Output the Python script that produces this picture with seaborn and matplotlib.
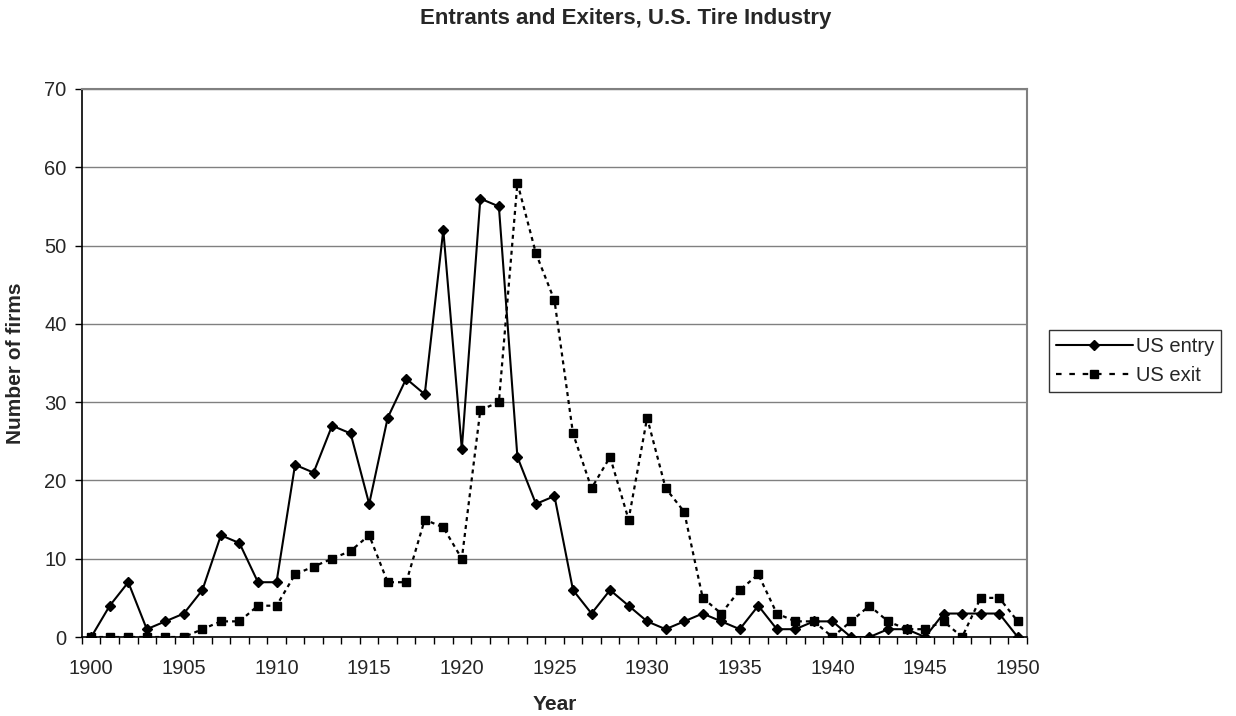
import numpy as np
import pandas as pd
import seaborn as sns
import matplotlib.pyplot as plt
from matplotlib.ticker import MultipleLocator, FixedLocator
from matplotlib.lines import Line2D

years = list(range(1900, 1951))
us_entry = [0, 4, 7, 1, 2, 3, 6, 13, 12, 7, 7, 22, 21, 27, 26, 17, 28, 33, 31, 52,
            24, 56, 55, 23, 17, 18, 6, 3, 6, 4, 2, 1, 2, 3, 2, 1, 4, 1, 1, 2,
            2, 0, 0, 1, 1, 0, 3, 3, 3, 3, 0]
us_exit = [0, 0, 0, 0, 0, 0, 1, 2, 2, 4, 4, 8, 9, 10, 11, 13, 7, 7, 15, 14,
           10, 29, 30, 58, 49, 43, 26, 19, 23, 15, 28, 19, 16, 5, 3, 6, 8, 3, 2, 2,
           0, 2, 4, 2, 1, 1, 2, 0, 5, 5, 2]

sns.set_style("white")
plt.rcParams['font.family'] = ['Liberation Sans', 'DejaVu Sans']

df = pd.DataFrame({"Year": years + years,
                   "firms": us_entry + us_exit,
                   "series": ["US entry"] * len(years) + ["US exit"] * len(years)})

fig = plt.figure(figsize=(12.36, 7.16), dpi=100)
ax = fig.add_axes([0.0663, 0.1103, 0.7646, 0.7654])

dash = (1.8, 1.8)
sns.lineplot(data=df[df.series == "US entry"], x="Year", y="firms", color="black",
             marker="D", markersize=5, markeredgecolor="black", markeredgewidth=1,
             linewidth=1.5, ax=ax)
sns.lineplot(data=df[df.series == "US exit"], x="Year", y="firms", color="black",
             marker="s", markersize=6, markeredgecolor="black", markeredgewidth=1,
             linewidth=1.6, dashes=False, ax=ax)
ax.lines[-1].set_linestyle((0, dash))

# category-style axis: points sit between tick marks
ax.set_xlim(years[0] - 0.5, years[-1] + 0.5)
ax.set_ylim(0, 70)
ax.xaxis.set_major_locator(FixedLocator(years[::5]))
ax.xaxis.set_minor_locator(FixedLocator(np.arange(years[0] - 0.5, years[-1] + 1, 1)))
ax.yaxis.set_major_locator(MultipleLocator(10))
ax.tick_params(axis='x', which='major', length=0, pad=16, labelsize=14.5, bottom=True)
ax.tick_params(axis='x', which='minor', direction='out', length=5, width=1,
               color='black', bottom=True)
ax.tick_params(axis='y', which='major', direction='out', length=5, width=1,
               color='black', pad=6, labelsize=14.5, left=True)
ax.grid(axis='y', color='#808080', linewidth=1)
ax.set_axisbelow(True)
for side in ['top', 'right']:
    ax.spines[side].set_color('#808080')
    ax.spines[side].set_linewidth(1.5)
for side in ['left', 'bottom']:
    ax.spines[side].set_color('black')
    ax.spines[side].set_linewidth(1.2)

ax.set_xlabel("Year", fontsize=15, fontweight='bold', labelpad=12)
ax.set_ylabel("Number of firms", fontsize=15, fontweight='bold', labelpad=14)
fig.suptitle("Entrants and Exiters, U.S. Tire Industry", fontsize=16,
             fontweight='bold', x=0.506, y=0.989, va='top')

handles = [Line2D([], [], color='black', marker='D', markersize=5, linewidth=1.5),
           Line2D([], [], color='black', marker='s', markersize=6, linewidth=1.6,
                  linestyle=(0, (2.5, 3.5)))]
leg = fig.legend(handles, ["US entry", "US exit"], loc='upper left',
                 bbox_to_anchor=(0.8487, 0.539), fontsize=14.5, frameon=True,
                 fancybox=False, edgecolor='black', handlelength=3.8,
                 handletextpad=0.15, borderpad=0.35, labelspacing=0.5,
                 borderaxespad=0)
leg.get_frame().set_linewidth(1)

fig.savefig("out.png", dpi=100)
